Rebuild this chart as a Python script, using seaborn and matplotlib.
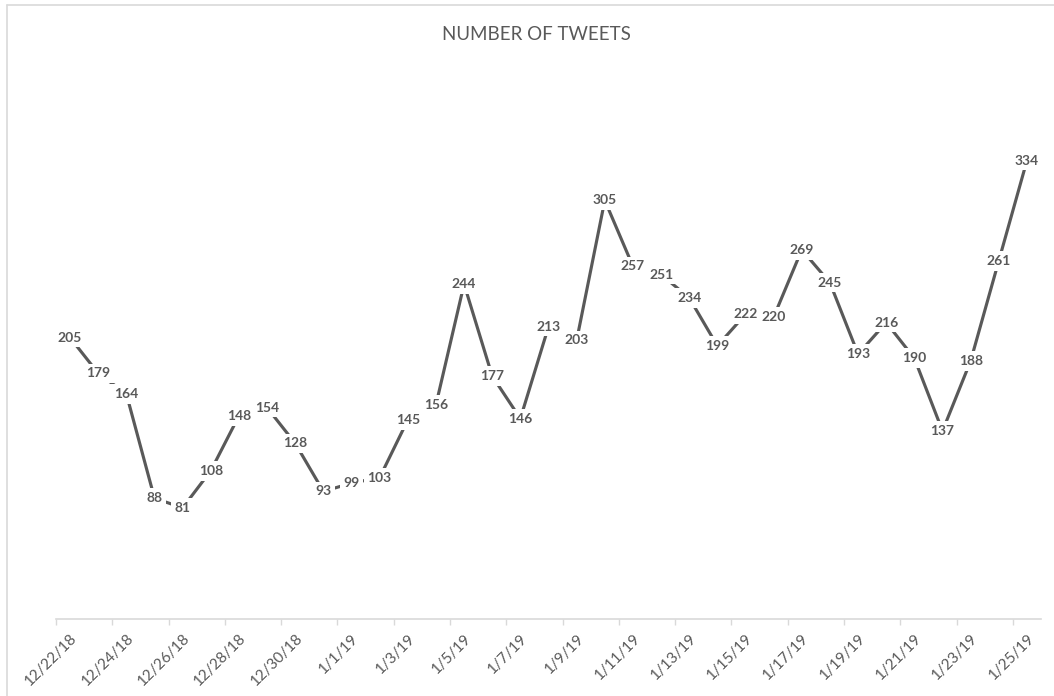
import matplotlib
matplotlib.use("Agg")
import matplotlib.pyplot as plt
from matplotlib.lines import Line2D
import seaborn as sns
import pandas as pd
import numpy as np

# Daily tweet counts
dates = [
    "2018-12-22", "2018-12-23", "2018-12-24", "2018-12-25", "2018-12-26",
    "2018-12-27", "2018-12-28", "2018-12-29", "2018-12-30", "2018-12-31",
    "2019-01-01", "2019-01-02", "2019-01-03", "2019-01-04", "2019-01-05",
    "2019-01-06", "2019-01-07", "2019-01-08", "2019-01-09", "2019-01-10",
    "2019-01-11", "2019-01-12", "2019-01-13", "2019-01-14", "2019-01-15",
    "2019-01-16", "2019-01-17", "2019-01-18", "2019-01-19", "2019-01-20",
    "2019-01-21", "2019-01-22", "2019-01-23", "2019-01-24", "2019-01-25",
]
tweets = [
    205, 179, 164, 88, 81, 108, 148, 154, 128, 93,
    99, 103, 145, 156, 244, 177, 146, 213, 203, 305,
    257, 251, 234, 199, 222, 220, 269, 245, 193, 216,
    190, 137, 188, 261, 334,
]
title = "NUMBER OF TWEETS"

dt = pd.to_datetime(dates)
# each day is a category slot; points sit in the middle of their slot
df = pd.DataFrame({"slot": np.arange(len(dt)) + 0.5, "tweets": tweets})
tick_labels = [f"{d.month}/{d.day}/{d.strftime('%y')}" for d in dt[::2]]

sns.set_theme(style="white")
plt.rcParams["font.family"] = ["Lato", "DejaVu Sans"]

GRAY = "#595959"
AXIS = "#d9d9d9"
W, H = 1054, 696
fig = plt.figure(figsize=(W / 100, H / 100), dpi=100)
left, right, bottom, top = 56, 1041, 619, 70
ax = fig.add_axes([left / W, 1 - bottom / H, (right - left) / W, (bottom - top) / H])

sns.lineplot(data=df, x="slot", y="tweets", ax=ax, color=GRAY, linewidth=2.25,
             solid_capstyle="butt")

for x, v in zip(df["slot"], df["tweets"]):
    ax.annotate(str(v), (x, v), ha="center", va="center", fontsize=10,
                fontweight="bold", color=GRAY,
                bbox=dict(boxstyle="square,pad=0.27", fc="white", ec="none"),
                zorder=5)

ax.set_xlim(0, len(dt))
ax.set_ylim(0, 400)

# tick marks on slot boundaries, labels centred in the slots
ax.set_xticks(np.arange(0, len(dt), 2), minor=True)
ax.set_xticks(df["slot"].values[::2])
ax.set_xticklabels(tick_labels, rotation=45, ha="right", va="top",
                   rotation_mode="anchor", fontsize=11, color=GRAY)
ax.tick_params(axis="x", which="major", length=0, pad=9, bottom=True)
ax.tick_params(axis="x", which="minor", length=4, width=1, color=AXIS,
               direction="out", bottom=True)
ax.set_yticks([])
ax.set_xlabel("")
ax.set_ylabel("")
for s in ["top", "right", "left"]:
    ax.spines[s].set_visible(False)
ax.spines["bottom"].set_color(AXIS)
ax.spines["bottom"].set_linewidth(1.2)

fig.text(536 / W, 1 - 35 / H, title, ha="center", va="center", fontsize=13.5,
         color=GRAY)

# Chart frame
fig.add_artist(Line2D([7 / W, 1], [1 - 5 / H, 1 - 5 / H], transform=fig.transFigure,
                      color=AXIS, linewidth=1.2))
fig.add_artist(Line2D([7 / W, 7 / W], [0, 1 - 5 / H], transform=fig.transFigure,
                      color=AXIS, linewidth=1.2))

fig.savefig("out.png", dpi=100, facecolor="white")
